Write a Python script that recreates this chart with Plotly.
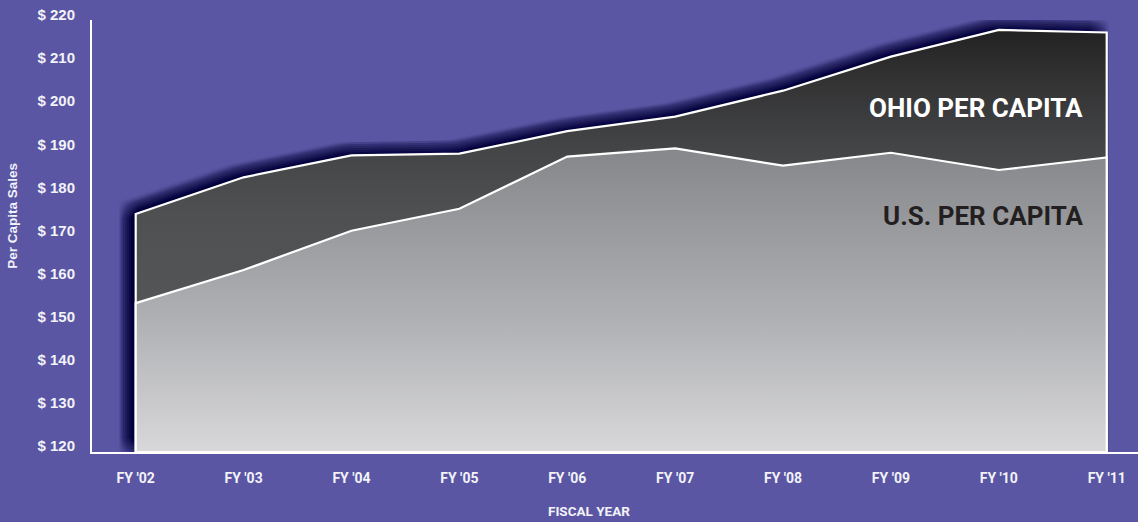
import plotly.graph_objects as go

# ---------------- data ----------------
fiscal_years = ["FY '02", "FY '03", "FY '04", "FY '05", "FY '06",
                "FY '07", "FY '08", "FY '09", "FY '10", "FY '11"]
ohio_per_capita = [175.0, 183.5, 188.6, 189.0, 194.2, 197.6, 203.6, 211.5, 217.7, 217.1]
us_per_capita = [154.3, 162.0, 171.1, 176.2, 188.3, 190.2, 186.2, 189.2, 185.2, 188.1]
y_tick_values = [120, 130, 140, 150, 160, 170, 180, 190, 200, 210, 220]
y_tick_labels = ["$ 120", "$ 130", "$ 140", "$ 150", "$ 160", "$ 170",
                 "$ 180", "$ 190", "$ 200", "$ 210", "$ 220"]

# ---------------- layout constants ----------------
W, H = 1138, 522
ML, MR, MT, MB = 92, 0, 20, 70
XR = [-0.405, 9.29]
YR = [119.77, 220.0]
plot_w = W - ML - MR
plot_h = H - MT - MB
px_x = plot_w / (XR[1] - XR[0])
px_y = plot_h / (YR[1] - YR[0])

BG = "#5a56a4"
TXT = "#f2f2f7"

xs = list(range(len(fiscal_years)))


def outline(vals):
    ox = [xs[0]] + xs + [xs[-1], xs[0]]
    oy = [YR[0]] + list(vals) + [YR[0], YR[0]]
    return ox, oy


fig = go.Figure()

# ---------------- drop shadow (blurred by stacking offset copies) ----------------
sx, sy = outline(ohio_per_capita)
center_dx, center_dy = -7, 4  # pixels (left, up)
for gx in range(-9, 10, 2):
    for gy in range(-9, 10, 2):
        dx = (center_dx + gx) / px_x
        dy = (center_dy + gy) / px_y
        fig.add_trace(go.Scatter(
            x=[v + dx for v in sx], y=[v + dy for v in sy],
            mode="lines", fill="toself",
            fillcolor="rgba(20,16,46,0.02)",
            line=dict(width=0, color="rgba(0,0,0,0)"),
            hoverinfo="skip", showlegend=False,
        ))

# ---------------- Ohio area ----------------
ox, oy = outline(ohio_per_capita)
fig.add_trace(go.Scatter(
    x=ox, y=oy, mode="lines", fill="toself",
    fillgradient=dict(type="vertical", start=120, stop=220,
                      colorscale=[[0.0, "#58595b"], [0.3, "#555658"],
                                  [0.55, "#4f5052"], [0.7, "#444547"],
                                  [0.85, "#343435"], [0.97, "#232324"],
                                  [1.0, "#1f1f20"]]),
    line=dict(color="white", width=2.2),
    hoverinfo="skip", showlegend=False, name="Ohio per capita",
))

# ---------------- U.S. area ----------------
ux, uy = outline(us_per_capita)
fig.add_trace(go.Scatter(
    x=ux, y=uy, mode="lines", fill="toself",
    fillgradient=dict(type="vertical", start=120, stop=220,
                      colorscale=[[0.0, "#d8d8da"], [0.3, "#b0b1b4"],
                                  [0.68, "#88898c"], [1.0, "#7c7d80"]]),
    line=dict(color="white", width=2.2),
    hoverinfo="skip", showlegend=False, name="U.S. per capita",
))

fig.update_layout(
    width=W, height=H,
    margin=dict(l=ML, r=MR, t=MT, b=MB, pad=0),
    paper_bgcolor=BG, plot_bgcolor=BG,
    showlegend=False, hovermode=False,
    xaxis=dict(
        range=XR, tickvals=xs, ticktext=fiscal_years,
        showgrid=False, zeroline=False, showline=True,
        linecolor="white", linewidth=2, ticks="",
        ticklabelstandoff=12,
        tickfont=dict(family="Roboto, Liberation Sans, Arial", size=14,
                      color=TXT, weight=700),
    ),
    yaxis=dict(
        range=YR, tickvals=y_tick_values, ticktext=y_tick_labels,
        showgrid=False, zeroline=False, showline=True,
        linecolor="white", linewidth=2, ticks="",
        ticklabelshift=-5, ticklabelstandoff=12,
        tickfont=dict(family="Liberation Sans, Arial", size=15,
                      color=TXT, weight=700),
    ),
    annotations=[
        dict(text="FISCAL YEAR", xref="paper", yref="paper",
             x=(589 - ML) / plot_w, y=(MT + plot_h - 511) / plot_h,
             xanchor="center", yanchor="middle", showarrow=False,
             font=dict(family="Roboto, Liberation Sans, Arial", size=13.5,
                       color=TXT, weight=700)),
        dict(text="Per Capita Sales", xref="paper", yref="paper",
             x=(13 - ML) / plot_w, y=(MT + plot_h - 215.7) / plot_h,
             xanchor="center", yanchor="middle", showarrow=False,
             textangle=-90,
             font=dict(family="Liberation Sans, Arial", size=13.5,
                       color=TXT, weight=700)),
        dict(text="OHIO PER CAPITA", xref="paper", yref="paper",
             x=(1085 - ML) / plot_w, y=(MT + plot_h - 107.7) / plot_h,
             xanchor="right", yanchor="middle", showarrow=False,
             font=dict(family="Roboto, Liberation Sans, Arial", size=26,
                       color="white", weight=700)),
        dict(text="U.S. PER CAPITA", xref="paper", yref="paper",
             x=(1085 - ML) / plot_w, y=(MT + plot_h - 216) / plot_h,
             xanchor="right", yanchor="middle", showarrow=False,
             font=dict(family="Roboto, Liberation Sans, Arial", size=26,
                       color="#231f20", weight=700)),
    ],
)

fig.write_html(
    "out.html",
    config={"displayModeBar": False, "staticPlot": True},
    post_script="document.body.style.margin='0';document.body.style.overflow='hidden';",
)
